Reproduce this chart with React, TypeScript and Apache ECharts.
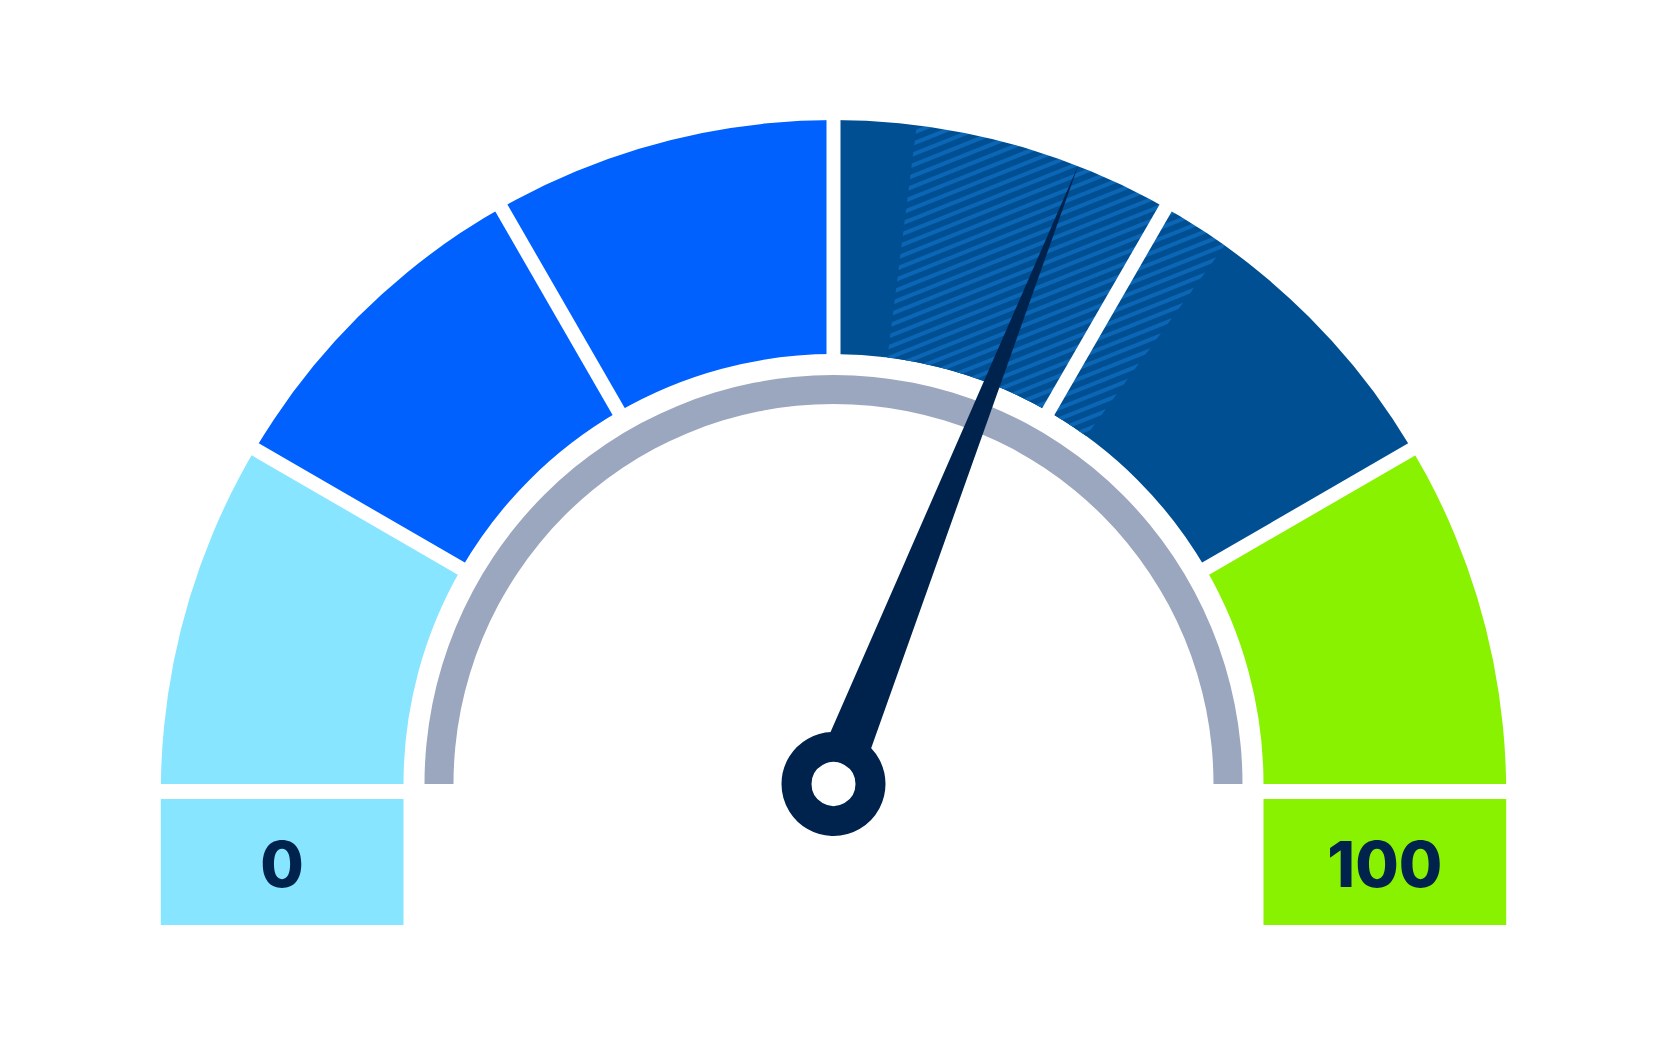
import React, { useRef, useEffect } from 'react';
import * as echarts from 'echarts';

// scale and readings
const GAUGE_MIN = 0;
const GAUGE_MAX = 100;
const SEGMENT_ENDS = [16.7, 33.3, 50, 66.7, 83.3, 100];
const NEEDLE_VALUE = 62;
const RANGE_LOW = 54;
const RANGE_HIGH = 70;
const END_LABELS = ['0', '100'];

const SEGMENT_COLORS = ['#87e5ff', '#0061fe', '#0061fe', '#004f92', '#004f92', '#88f200'];
const GRAY = '#9ba6bf';
const NAVY = '#00234e';
const STRIPE = '#0b66b6';

// layout (px)
const CX = 833.5;
const CY = 784;
const R_OUT = 672.7; // outer edge, its centre sits a little lower than the hub
const OUT_DROP = 8.5;
const R_IN = 430;
const R_FILL = 690; // band is drawn oversized and trimmed by the white mask
const GRAY_OUT = 409;
const GRAY_IN = 380;
const GAP = 14;
const NEEDLE_LEN = 665;
const NEEDLE_W = 47;
const BOX_H = 126;

const angleOf = (v: number) => 180 - ((v - GAUGE_MIN) / (GAUGE_MAX - GAUGE_MIN)) * 180;

const hidden = {
  splitLine: { show: false },
  axisTick: { show: false },
  axisLabel: { show: false },
  pointer: { show: false },
  anchor: { show: false },
  title: { show: false },
  detail: { show: false },
};

export default function App() {
  const ref = useRef<HTMLDivElement>(null);

  useEffect(() => {
    if (!ref.current) return;
    const chart = echarts.init(ref.current, undefined, { renderer: 'svg' });

    const boxTop = CY + GAP + 1;
    const boxW = R_OUT - R_IN;
    const boxes = [
      { x: CX - R_OUT, color: SEGMENT_COLORS[0], text: END_LABELS[0] },
      { x: CX + R_IN, color: SEGMENT_COLORS[SEGMENT_COLORS.length - 1], text: END_LABELS[1] },
    ];

    const option: echarts.EChartsOption = {
      animation: false,
      backgroundColor: '#fff',
      series: [
        // coloured band
        {
          type: 'gauge',
          z: 1,
          center: [CX, CY],
          radius: R_FILL,
          startAngle: 180,
          endAngle: 0,
          min: GAUGE_MIN,
          max: GAUGE_MAX,
          axisLine: {
            lineStyle: {
              width: R_FILL - R_IN,
              color: SEGMENT_ENDS.map((v, i) => [v / GAUGE_MAX, SEGMENT_COLORS[i]] as [number, string]),
            },
          },
          ...hidden,
          data: [{ value: GAUGE_MIN }],
        },
        // hatched range
        {
          type: 'pie',
          z: 2,
          center: [CX, CY],
          radius: [R_IN, R_FILL],
          startAngle: 180,
          silent: true,
          label: { show: false },
          labelLine: { show: false },
          emphasis: { disabled: true },
          itemStyle: { borderWidth: 0 },
          data: [
            { value: RANGE_LOW - GAUGE_MIN, itemStyle: { color: 'transparent' } },
            {
              value: RANGE_HIGH - RANGE_LOW,
              itemStyle: {
                color: SEGMENT_COLORS[3],
                decal: {
                  symbol: 'rect',
                  symbolSize: 1,
                  dashArrayX: [1, 0],
                  dashArrayY: [4, 5.3],
                  rotation: -0.38,
                  color: STRIPE,
                },
              },
            },
            { value: 2 * GAUGE_MAX - RANGE_HIGH, itemStyle: { color: 'transparent' } },
          ],
        },
        // white mask shaping the outer edge
        {
          type: 'gauge',
          z: 3,
          center: [CX, CY + OUT_DROP],
          radius: R_OUT + 38,
          startAngle: 180,
          endAngle: 0,
          min: GAUGE_MIN,
          max: GAUGE_MAX,
          axisLine: { lineStyle: { width: 38, color: [[1, '#ffffff']] } },
          ...hidden,
          data: [{ value: GAUGE_MIN }],
        },
        // white gaps between segments
        {
          type: 'gauge',
          z: 4,
          center: [CX, CY],
          radius: R_FILL,
          startAngle: angleOf(SEGMENT_ENDS[0]),
          endAngle: angleOf(SEGMENT_ENDS[4]),
          min: SEGMENT_ENDS[0],
          max: SEGMENT_ENDS[4],
          splitNumber: 4,
          axisLine: { show: false, lineStyle: { width: 0 } },
          ...hidden,
          splitLine: {
            show: true,
            distance: 0,
            length: R_FILL - R_IN + 6,
            lineStyle: { color: '#fff', width: GAP, cap: 'butt' },
          },
          data: [{ value: SEGMENT_ENDS[0] }],
        },
        // gray inner ring
        {
          type: 'gauge',
          z: 4,
          center: [CX, CY],
          radius: GRAY_OUT,
          startAngle: 180,
          endAngle: 0,
          min: GAUGE_MIN,
          max: GAUGE_MAX,
          axisLine: { lineStyle: { width: GRAY_OUT - GRAY_IN, color: [[1, GRAY]] } },
          ...hidden,
          data: [{ value: GAUGE_MIN }],
        },
        // needle
        {
          type: 'gauge',
          z: 6,
          center: [CX, CY],
          radius: NEEDLE_LEN,
          startAngle: 180,
          endAngle: 0,
          min: GAUGE_MIN,
          max: GAUGE_MAX,
          axisLine: { show: false, lineStyle: { width: 0 } },
          ...hidden,
          pointer: {
            show: true,
            icon: 'path://M0,1 L0.5,0 L1,1 Z',
            length: '100%',
            width: NEEDLE_W,
            offsetCenter: [0, 0],
            itemStyle: { color: NAVY },
          },
          anchor: {
            show: true,
            showAbove: true,
            size: 74,
            itemStyle: { color: '#fff', borderColor: NAVY, borderWidth: 30 },
          },
          data: [{ value: NEEDLE_VALUE }],
        },
      ],
      graphic: boxes.flatMap(b => [
        {
          type: 'rect',
          z: 10,
          shape: { x: b.x, y: boxTop, width: boxW, height: BOX_H },
          style: { fill: b.color },
          silent: true,
        },
        {
          type: 'text',
          z: 11,
          x: b.x + boxW / 2,
          y: boxTop + BOX_H / 2 + 2,
          style: {
            legacy: false,
            text: b.text,
            fill: NAVY,
            fontSize: 63,
            fontWeight: 800,
            fontFamily: 'Inter',
            align: 'center',
            verticalAlign: 'middle',
          },
          silent: true,
        },
      ]),
    };

    chart.setOption(option);
    const onResize = () => chart.resize();
    window.addEventListener('resize', onResize);
    return () => {
      window.removeEventListener('resize', onResize);
      chart.dispose();
    };
  }, []);

  return (
    <div
      ref={ref}
      style={{ position: 'fixed', left: 0, top: 0, width: 1667, height: 1042 }}
    />
  );
}
